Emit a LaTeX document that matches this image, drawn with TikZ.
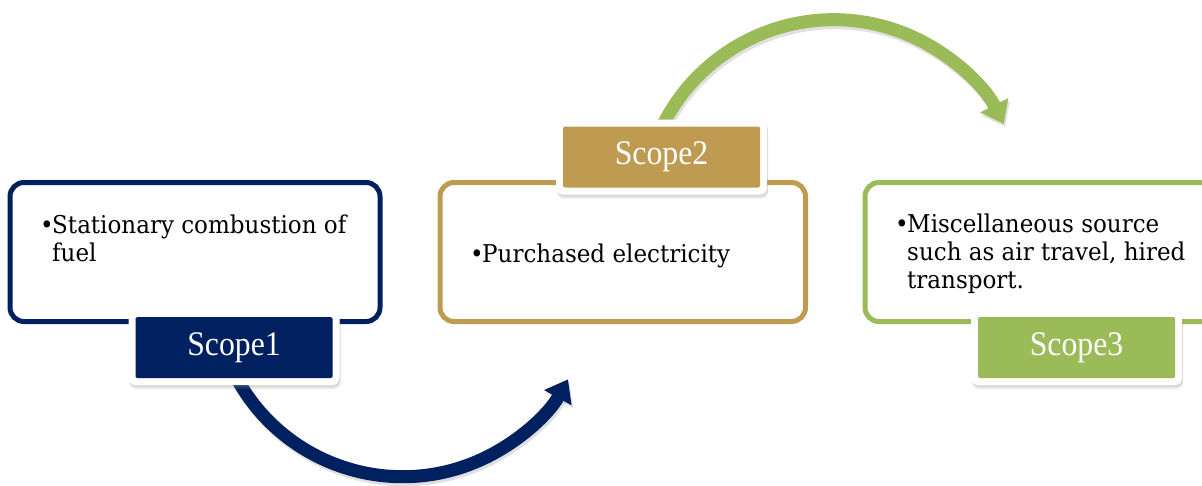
\documentclass[tikz,border=0pt]{standalone}
\usepackage{fontspec}
\setmainfont{DejaVu Serif}[FakeStretch=0.94]
\newfontfamily\tabfont{Liberation Serif}[FakeStretch=0.92]
\usetikzlibrary{arrows.meta,shadows}
\definecolor{navy}{RGB}{0,32,96}
\definecolor{gold}{RGB}{191,155,82}
\definecolor{leaf}{RGB}{155,187,89}
\newcommand{\mybul}{\makebox[12pt][l]{•}}
\begin{document}
\begin{tikzpicture}[x=1pt,y=1pt,
  box/.style={draw=#1, line width=5pt, rounded corners=14pt, fill=white, inner sep=0pt, minimum height=139pt},
  tab/.style={fill=white, draw=none, rounded corners=7pt, minimum width=211pt, minimum height=75pt, inner sep=0pt, text=white, font=\tabfont\fontsize{34.5}{40}\selectfont,
    drop shadow={opacity=0.18, shadow xshift=1pt, shadow yshift=-4pt},
    drop shadow={opacity=0.15, shadow xshift=1pt, shadow yshift=-2pt},
    path picture={\fill[#1, rounded corners=1.5pt] ([shift={(7pt,7pt)}]path picture bounding box.south west) rectangle ([shift={(-7pt,-7pt)}]path picture bounding box.north east);}},
  body/.style={anchor=base west, inner sep=0pt, font=\fontsize{24.5}{28}\selectfont, align=left},
  arcarrow/.style={draw=#1, line width=13pt, -{Triangle[length=21pt,width=30pt]}},
  arcshadow/.style={draw=black, opacity=0.12, line width=13pt, -{Triangle[length=21pt,width=30pt]}}
]
\useasboundingbox (0,0) rectangle (1202,-485);
% boxes
\node[box=navy, minimum width=370pt] (b1) at (195,-252) {};
\node[box=gold, minimum width=365.5pt] (b2) at (622.75,-252) {};
\node[box=leaf, minimum width=365pt] (b3) at (1047.5,-252) {};
% arrows
\coordinate (c1) at (402.7,-287.7);
\coordinate (c2) at (833.6,-210.7);
\coordinate (c1s) at (404.2,-290.7);
\coordinate (c2s) at (835.1,-213.7);
\draw[arcshadow] ([shift={(205:189)}]c1s) arc[start angle=205, end angle=331, radius=189];
\draw[arcshadow] ([shift={(155:191)}]c2s) arc[start angle=155, end angle=27, radius=191];
\draw[arcarrow=navy] ([shift={(205:189)}]c1) arc[start angle=205, end angle=331, radius=189];
\draw[arcarrow=leaf] ([shift={(155:191)}]c2) arc[start angle=155, end angle=27, radius=191];
% tabs
\node[tab=navy] (s1) at (234,-347.5) {Scope1};
\node[tab=gold] (s2) at (661.5,-157) {Scope2};
\node[tab=leaf] (s3) at (1076.5,-347.5) {Scope3};
% texts
\node[body] (t1) at (40,-261) {\mybul Stationary combustion of\\\hspace*{12pt}fuel};
\node[body] (t2) at (470,-262) {\mybul Purchased electricity};
\node[body] (t3) at (895,-288) {\mybul Miscellaneous source\\\hspace*{12pt}such as air travel, hired\\\hspace*{12pt}transport.};
\end{tikzpicture}
\end{document}
